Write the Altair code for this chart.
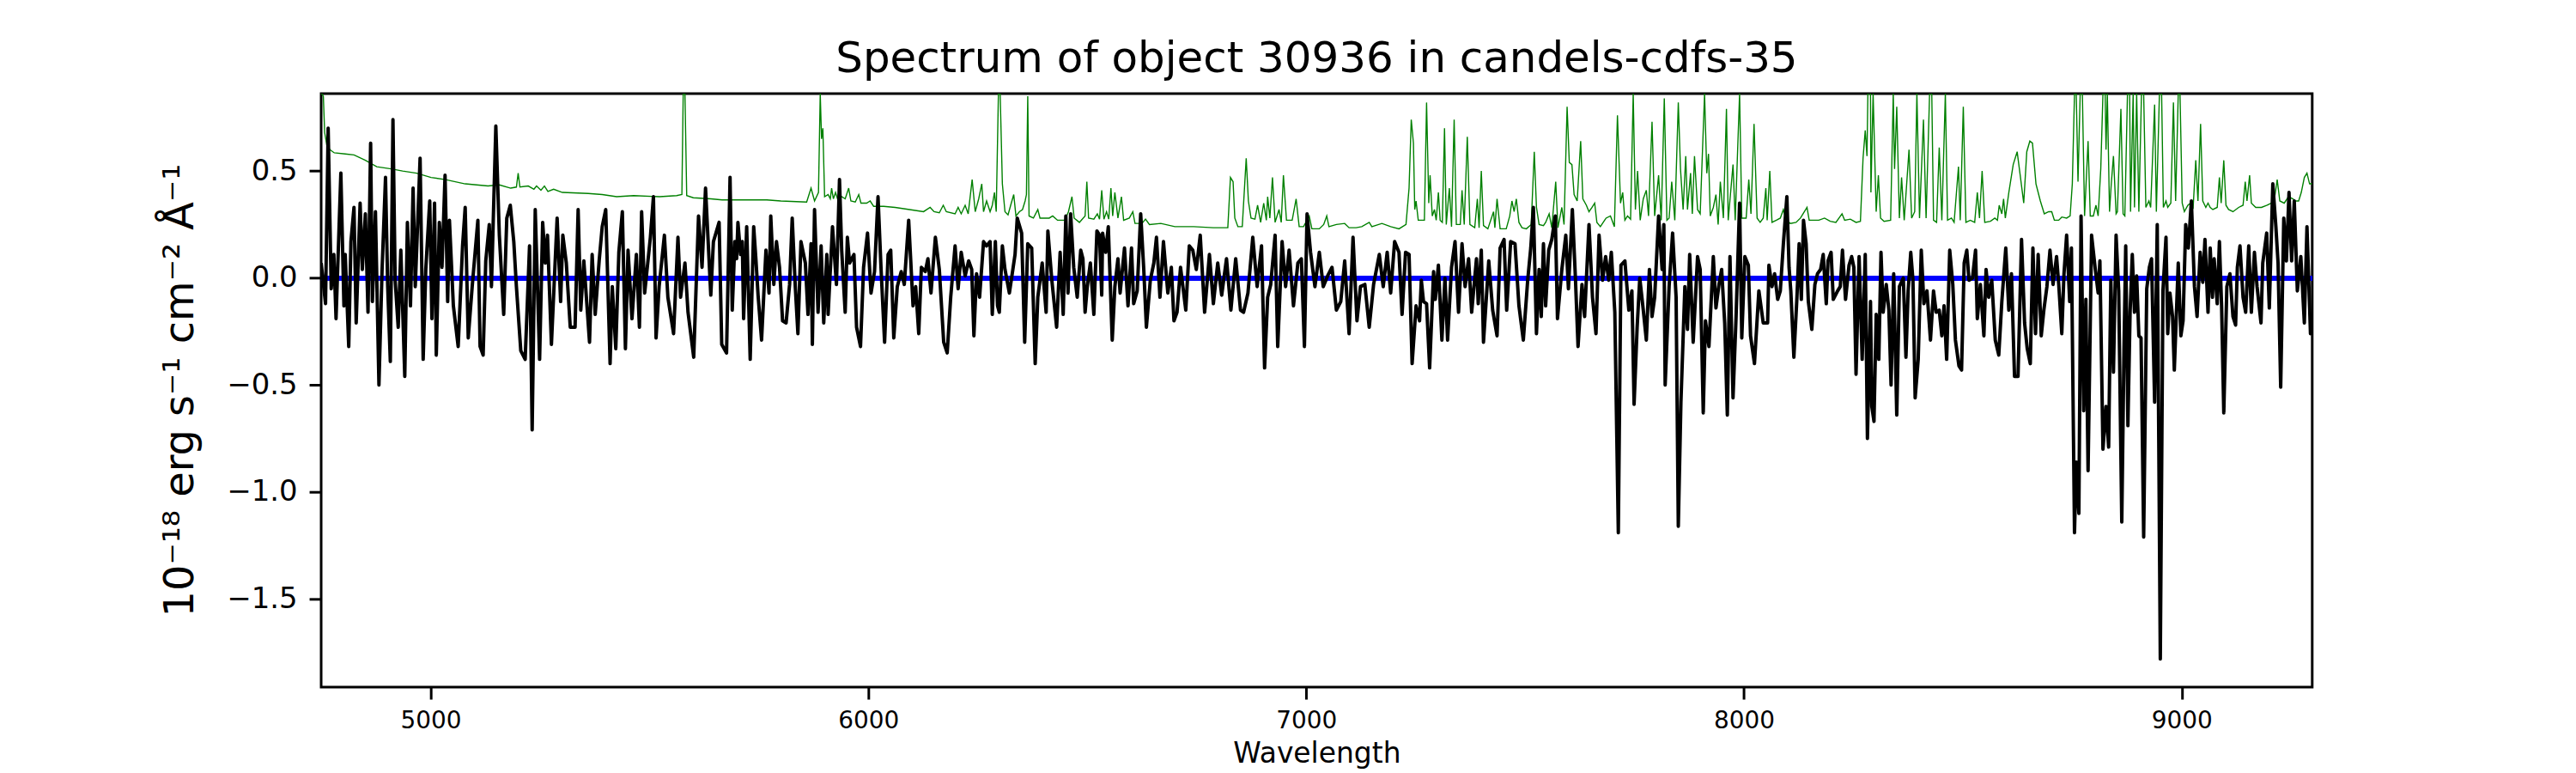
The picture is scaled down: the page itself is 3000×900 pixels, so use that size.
import altair as alt
import pandas as pd

# ---- observed flux (black), wavelength [A], flux [1e-18 erg/s/cm2/A] ----
flux_a = [(4750,0.07),(4760,-0.12),(4766,0.70),(4773,-0.05),(4779,0.11),(4784,-0.19),(4795,0.49),(4802,-0.13),(4805,0.11),(4813,-0.32),(4818,0.17),(4825,0.33),(4830,-0.21),(4839,0.35),(4844,0.04),(4851,0.30),(4857,-0.16),(4863,0.63),(4867,-0.11),(4874,0.31),(4882,-0.50),(4889,0.03),(4897,0.47),(4902,-0.04),(4908,-0.39),(4914,0.74),(4919,-0.01),(4926,-0.23),(4932,0.13),(4941,-0.46),(4947,0.26),(4954,-0.13),(4960,0.42),(4965,-0.04),(4976,0.56),(4983,-0.38),(4989,0.04),(4998,0.36),(5003,-0.19),(5009,0.35),(5013,-0.36),(5020,0.26),(5026,0.05),(5033,0.48),(5039,-0.11),(5043,0.27),(5052,-0.13),(5063,-0.32),(5073,0.15),(5079,0.33),(5086,-0.28),(5095,-0.04),(5108,0.27),(5113,-0.32),(5120,-0.36),(5126,0.08),(5134,0.25),(5139,-0.04),(5149,0.71),(5157,0.20),(5167,-0.17),(5174,0.28),(5182,0.34),(5190,0.17),(5196,-0.04),(5206,-0.34),(5216,-0.38),(5226,0.15),(5232,-0.71),(5239,0.32),(5249,-0.38),(5256,0.26),(5262,0.07),(5267,0.20),(5276,-0.31),(5289,0.28),(5297,-0.11),(5302,0.20),(5310,0.07),(5319,-0.23),(5330,-0.23),(5337,0.32),(5343,-0.15),(5350,0.08),(5363,-0.30),(5369,0.11),(5376,-0.17),(5385,0.08),(5392,0.24),(5400,0.32),(5410,-0.40),(5415,-0.04),(5423,-0.33),(5430,0.12),(5438,0.31),(5445,-0.33),(5451,0.13),(5460,-0.19),(5470,0.11),(5477,-0.23),(5482,0.31),(5489,-0.07),(5502,0.19),(5509,0.38),(5515,-0.28),(5522,-0.04),(5534,0.20),(5542,-0.09),(5555,-0.26),(5565,0.19),(5571,-0.09),(5581,0.07),(5588,-0.16),(5601,-0.37),(5612,0.29),(5620,0.05),(5628,0.42),(5640,-0.08),(5646,0.17),(5659,0.26),(5665,-0.31),(5676,-0.35)]
flux_b = [(5684,0.47),(5689,-0.15),(5695,0.17),(5699,0.09),(5702,0.26),(5708,0.11),(5712,0.17),(5715,-0.19),(5722,0.24),(5730,-0.38),(5738,0.24),(5743,0.09),(5748,-0.08),(5756,-0.29),(5766,0.13),(5773,-0.07),(5777,0.29),(5784,-0.03),(5790,0.17),(5797,0.05),(5804,-0.20),(5812,-0.21),(5820,-0.03),(5826,0.28),(5833,-0.04),(5839,-0.26),(5846,0.17),(5856,0.07),(5862,-0.17),(5869,0.16),(5872,-0.31),(5877,0.32),(5885,-0.16),(5892,0.15),(5898,-0.21),(5905,0.11),(5908,-0.17),(5918,0.24),(5927,-0.03),(5934,0.46),(5939,0.13),(5947,-0.16),(5952,0.19),(5957,0.07),(5967,0.11),(5973,-0.23),(5982,-0.32),(5989,0.05),(5998,0.21),(6006,-0.07),(6014,0.03),(6022,0.38),(6029,0.04),(6037,-0.30),(6045,0.11),(6051,0.13),(6058,-0.28),(6066,-0.04),(6075,0.03),(6082,-0.03),(6092,0.27),(6102,-0.13),(6108,-0.04),(6115,-0.26),(6121,0.05),(6130,0.03),(6136,0.09),(6143,-0.07),(6153,0.19),(6162,0.04),(6172,-0.30),(6180,-0.35),(6188,-0.09),(6198,0.15),(6205,-0.05),(6212,0.12),(6221,0.01),(6229,0.08),(6236,0.04),(6241,-0.27),(6247,0.02),(6254,-0.09),(6263,0.17),(6270,0.15),(6278,0.17),(6283,-0.17),(6290,0.17),(6295,-0.13),(6299,-0.16),(6306,0.15),(6312,0.04),(6322,-0.07),(6330,0.04),(6335,0.11),(6340,0.28),(6350,0.21),(6357,-0.30),(6364,0.16),(6373,0.14),(6381,-0.40),(6387,-0.09),(6397,0.07),(6406,-0.16),(6410,0.22),(6419,-0.01),(6430,-0.23),(6438,0.12),(6445,-0.17),(6451,0.29),(6456,-0.07),(6462,0.30),(6469,0.05)]
flux_c = [(6477,-0.09),(6485,0.13),(6490,0.09),(6495,-0.16),(6500,-0.04),(6507,0.07),(6515,-0.17),(6522,0.22),(6528,0.20),(6533,-0.08),(6535,0.21),(6542,0.12),(6548,0.24),(6557,-0.29),(6563,-0.04),(6570,0.09),(6575,-0.07),(6585,0.14),(6593,-0.13),(6601,0.14),(6606,-0.12),(6614,-0.06),(6622,0.30),(6629,0.04),(6635,-0.23),(6644,-0.01),(6652,0.07),(6658,0.19),(6666,-0.09),(6674,0.17),(6684,-0.07),(6692,0.05),(6698,-0.20),(6705,-0.16),(6713,0.05),(6725,-0.15),(6733,0.15),(6741,0.13),(6749,0.04),(6758,0.20),(6768,-0.16),(6779,0.11),(6788,-0.12),(6798,0.07),(6807,-0.08),(6818,0.09),(6828,-0.15),(6839,0.09),(6850,-0.15),(6857,-0.16),(6867,-0.07),(6878,0.19),(6888,-0.04),(6898,0.15),(6905,-0.42),(6912,-0.09),(6919,-0.03),(6929,0.20),(6935,-0.32),(6945,0.17),(6953,-0.04),(6961,0.13),(6971,-0.13),(6981,0.07),(6989,0.09),(6996,-0.32),(7002,0.30),(7010,0.12),(7020,-0.04),(7030,0.12),(7039,-0.04),(7049,0.01),(7059,0.05),(7069,-0.15),(7079,-0.11),(7088,0.08),(7098,-0.26),(7107,0.19),(7116,-0.20),(7124,-0.04),(7134,-0.03),(7144,-0.23),(7154,-0.03),(7167,0.11),(7176,-0.04),(7185,0.12),(7193,-0.07),(7202,0.17),(7212,0.12),(7219,-0.17),(7227,0.12),(7235,0.11),(7242,-0.40),(7251,-0.13),(7259,-0.20)]
flux_d = [(7263,-0.01),(7268,-0.11),(7275,-0.12),(7282,-0.42),(7291,0.03),(7295,-0.10),(7302,0.06),(7310,-0.29),(7317,0.00),(7323,-0.29),(7332,0.05),(7340,0.17),(7348,-0.16),(7356,0.16),(7363,-0.04),(7371,0.09),(7378,-0.16),(7389,0.09),(7393,-0.12),(7400,0.13),(7405,-0.30),(7417,0.08),(7426,-0.15),(7436,-0.27),(7443,0.14),(7452,0.18),(7458,-0.15),(7467,0.17),(7477,0.16),(7486,-0.13),(7496,-0.29),(7506,-0.01),(7513,0.14),(7519,0.33),(7526,-0.26),(7532,0.04),(7537,-0.18),(7542,0.16),(7547,-0.13),(7554,0.13),(7561,0.18),(7569,0.29),(7574,-0.19),(7584,0.04),(7593,0.20),(7599,-0.05),(7608,0.32),(7615,0.00),(7621,-0.32),(7630,-0.03),(7636,-0.18),(7646,0.25),(7654,-0.09),(7662,-0.26),(7669,0.20),(7677,-0.01),(7684,0.10),(7691,-0.01),(7697,0.12),(7705,-0.16),(7713,-1.19),(7719,0.06),(7728,0.08),(7737,-0.15),(7744,-0.06),(7749,-0.59),(7756,-0.23),(7762,0.00),(7770,-0.15),(7777,-0.29),(7784,0.04),(7790,-0.18),(7796,-0.09),(7805,0.29),(7813,0.04),(7817,0.25),(7820,-0.50),(7829,-0.04),(7837,0.21),(7845,-0.09),(7850,-1.16),(7856,-0.58),(7865,-0.04),(7871,-0.24),(7876,0.11),(7884,-0.30),(7894,0.10),(7900,0.04),(7907,-0.63),(7912,-0.20),(7920,-0.32),(7930,0.10),(7936,-0.14),(7943,-0.03),(7949,0.04),(7956,-0.21),(7962,-0.64),(7968,0.10),(7975,-0.56),(7982,-0.18),(7990,0.35),(7995,-0.28),(8002,0.10),(8010,0.06),(8015,-0.27),(8024,-0.40),(8034,-0.06),(8044,-0.21),(8054,-0.21)]
flux_e = [(8057,0.06),(8064,-0.04),(8070,0.02),(8077,-0.10),(8083,-0.06),(8090,0.16),(8098,0.38),(8103,0.05),(8107,-0.06),(8114,-0.37),(8121,-0.09),(8126,0.16),(8131,-0.10),(8136,0.27),(8142,0.16),(8147,-0.11),(8155,-0.24),(8162,-0.03),(8168,0.02),(8175,0.04),(8181,0.11),(8188,-0.12),(8192,0.08),(8199,0.12),(8204,-0.10),(8214,-0.06),(8220,-0.04),(8225,0.13),(8232,-0.10),(8240,0.06),(8246,0.10),(8251,0.05),(8256,-0.45),(8263,0.10),(8270,-0.38),(8277,0.11),(8282,-0.75),(8289,-0.11),(8292,-0.60),(8297,-0.67),(8302,-0.17),(8308,-0.38),(8313,0.12),(8318,-0.16),(8325,-0.03),(8331,-0.15),(8336,-0.50),(8342,0.02),(8349,-0.64),(8355,-0.04),(8364,0.00),(8370,-0.37),(8375,-0.06),(8381,0.12),(8386,-0.01),(8391,-0.56),(8398,-0.38),(8405,0.13),(8411,-0.12),(8418,-0.06),(8426,-0.29),(8433,-0.06),(8439,-0.16),(8446,-0.15),(8452,-0.27),(8457,-0.13),(8463,-0.38),(8470,0.13),(8477,-0.03),(8483,-0.29),(8491,-0.41),(8497,-0.43),(8503,0.07),(8509,0.13),(8514,-0.01),(8522,0.00),(8529,0.13),(8533,-0.19),(8540,-0.03),(8548,-0.27),(8553,0.04),(8559,-0.09),(8566,-0.01),(8574,-0.29),(8582,-0.36),(8589,-0.11),(8598,0.14),(8605,-0.15),(8611,0.02),(8618,-0.46),(8626,-0.46),(8634,0.18),(8641,-0.21),(8647,-0.33),(8654,-0.40),(8660,0.14),(8666,-0.26),(8672,0.11),(8679,-0.27),(8685,-0.15),(8692,-0.04),(8699,0.13),(8706,-0.03),(8714,0.10),(8719,-0.03),(8726,-0.26),(8731,0.02),(8737,0.20),(8744,-0.11),(8748,0.14),(8755,-1.19),(8759,-0.86),(8765,-1.10),(8770,0.29),(8776,-0.62),(8781,-0.10),(8786,-0.90),(8794,0.20),(8802,0.05),(8809,-0.07),(8813,0.08),(8820,-0.80),(8827,-0.60),(8833,-0.79),(8838,-0.01),(8844,-0.44)]
flux_f = [(8850,0.20),(8856,-0.06),(8863,-1.14),(8868,-0.34),(8872,0.15),(8877,-0.69),(8882,-0.16),(8887,0.11),(8892,-0.16),(8897,0.01),(8902,-0.27),(8907,-0.28),(8913,-1.21),(8920,-0.05),(8926,0.05),(8931,0.09),(8938,-0.58),(8944,0.25),(8951,-1.78),(8957,-0.06),(8964,0.19),(8968,-0.26),(8973,-0.07),(8979,-0.18),(8983,-0.43),(8992,0.07),(8998,-0.27),(9003,-0.20),(9009,0.25),(9015,0.14),(9022,0.36),(9029,-0.04),(9035,-0.18),(9042,0.12),(9048,-0.02),(9053,0.18),(9060,-0.16),(9065,0.14),(9070,-0.09),(9074,0.09),(9081,-0.12),(9086,0.17),(9091,-0.13),(9096,-0.63),(9103,-0.04),(9110,0.02),(9117,-0.18),(9123,-0.22),(9127,0.05),(9133,0.15),(9140,-0.09),(9146,-0.16),(9153,0.15),(9159,-0.16),(9166,0.12),(9172,-0.04),(9181,-0.21),(9185,0.07),(9194,0.21),(9200,-0.14),(9208,0.44),(9215,0.24),(9220,0.07),(9226,-0.51),(9233,0.28),(9239,0.08),(9245,0.40),(9251,0.08),(9257,0.36),(9264,-0.06),(9272,0.10),(9280,-0.21),(9286,0.24),(9294,-0.26),(9298,-0.25)]

# ---- noise / sky spectrum (green) ----
sky_a = [(4751,1.2),(4755,0.85),(4758,0.68),(4763,0.62),(4770,0.60),(4780,0.585),(4805,0.58),(4825,0.575),(4851,0.55),(4877,0.52),(4910,0.51),(4936,0.50),(4968,0.49),(5001,0.47),(5034,0.46),(5079,0.44),(5131,0.43),(5157,0.435),(5183,0.42),(5196,0.425),(5200,0.49),(5204,0.425),(5223,0.43),(5236,0.415),(5242,0.43),(5252,0.41),(5260,0.43),(5268,0.405),(5281,0.415),(5301,0.40),(5360,0.395),(5392,0.39),(5425,0.38),(5464,0.385),(5523,0.38),(5562,0.385),(5574,0.39),(5577,1.6),(5581,1.6),(5585,0.385),(5600,0.375),(5640,0.37),(5666,0.365)]
sky_b = [(5768,0.365),(5800,0.36),(5859,0.355),(5869,0.42),(5877,0.36),(5886,0.40),(5890,1.5),(5893,0.65),(5896,0.70),(5900,0.38),(5908,0.39),(5913,0.37),(5916,0.42),(5920,0.37),(5925,0.40),(5931,0.36),(5939,0.38),(5947,0.37),(5955,0.42),(5960,0.36),(5970,0.355),(5978,0.39),(5983,0.35),(5996,0.35),(6004,0.36),(6012,0.335),(6035,0.335),(6061,0.33),(6094,0.32),(6126,0.31),(6141,0.33),(6150,0.31),(6162,0.305),(6171,0.34),(6178,0.31),(6198,0.30),(6205,0.33),(6212,0.30),(6221,0.34),(6228,0.30),(6237,0.46),(6244,0.31),(6252,0.37),(6259,0.44),(6263,0.31),(6270,0.36),(6278,0.31),(6283,0.34),(6288,0.40),(6292,0.31),(6297,1.5),(6301,1.5),(6306,0.44),(6312,0.31),(6319,0.295),(6325,0.34),(6332,0.39),(6337,0.29),(6345,0.31),(6352,0.32),(6358,0.36),(6361,0.39),(6364,0.85),(6367,0.29),(6377,0.28),(6387,0.32),(6392,0.28),(6413,0.28),(6421,0.29),(6432,0.27),(6449,0.27),(6457,0.31),(6465,0.38),(6470,0.28)]
sky_c = [(6482,0.26),(6495,0.29),(6499,0.45),(6503,0.28),(6515,0.275),(6523,0.30),(6528,0.275),(6533,0.41),(6538,0.275),(6544,0.31),(6549,0.275),(6554,0.42),(6558,0.29),(6563,0.40),(6570,0.28),(6578,0.38),(6583,0.27),(6596,0.28),(6604,0.31),(6609,0.255),(6625,0.255),(6633,0.275),(6642,0.25),(6668,0.255),(6700,0.24),(6743,0.24),(6788,0.235),(6821,0.235),(6827,0.47),(6833,0.45),(6837,0.28),(6844,0.24),(6854,0.24),(6863,0.56),(6868,0.36),(6874,0.28),(6883,0.275),(6889,0.34),(6896,0.26),(6903,0.35),(6909,0.27),(6912,0.38),(6917,0.28),(6923,0.47),(6929,0.26),(6938,0.32),(6943,0.26),(6948,0.48),(6955,0.27),(6968,0.27),(6977,0.37),(6984,0.24),(6994,0.24),(7007,0.29),(7013,0.23),(7030,0.23),(7040,0.25),(7047,0.29),(7052,0.24),(7069,0.25),(7088,0.255),(7098,0.235),(7114,0.235),(7127,0.24),(7144,0.26),(7150,0.24),(7173,0.255),(7193,0.24),(7212,0.23),(7228,0.25),(7235,0.42),(7240,0.74),(7245,0.63),(7248,0.32),(7251,0.36),(7256,0.27)]
sky_d = [(7262,0.27),(7270,0.27),(7275,0.82),(7280,0.35),(7283,0.48),(7288,0.29),(7293,0.32),(7297,0.27),(7302,0.40),(7306,0.27),(7311,0.26),(7316,0.70),(7320,0.25),(7327,0.42),(7332,0.24),(7338,0.74),(7343,0.25),(7352,0.25),(7356,0.41),(7361,0.25),(7368,0.66),(7374,0.25),(7385,0.235),(7391,0.37),(7395,0.235),(7400,0.50),(7405,0.245),(7415,0.23),(7428,0.31),(7431,0.235),(7436,0.37),(7443,0.23),(7457,0.23),(7465,0.29),(7470,0.36),(7475,0.31),(7480,0.37),(7486,0.26),(7493,0.235),(7503,0.23),(7514,0.25),(7521,0.59),(7526,0.33),(7532,0.25),(7542,0.245),(7547,0.26),(7555,0.30),(7561,0.235),(7570,0.45),(7575,0.235),(7584,0.33),(7589,0.25),(7596,0.80),(7601,0.54),(7607,0.53),(7612,0.39),(7619,0.36),(7627,0.64),(7632,0.37),(7640,0.34),(7646,0.31),(7653,0.33),(7659,0.35),(7664,0.26),(7672,0.24),(7685,0.28),(7695,0.29),(7704,0.24),(7711,0.76),(7718,0.35),(7723,0.40),(7728,0.27),(7734,0.29),(7741,0.275),(7747,0.95),(7752,0.32),(7757,0.50),(7763,0.27),(7770,0.37),(7777,0.41),(7782,0.29),(7790,0.73),(7796,0.29),(7805,0.48),(7811,0.27),(7818,0.84),(7824,0.27),(7829,0.28),(7835,0.45),(7842,0.27),(7850,0.82),(7855,0.51),(7861,0.32),(7867,0.57),(7871,0.32),(7878,0.49),(7882,0.30),(7887,0.57),(7894,0.32),(7900,0.30),(7910,0.95),(7915,0.49),(7919,0.58),(7923,0.29),(7930,0.33),(7936,0.39),(7941,0.25),(7946,0.45),(7953,0.28),(7960,0.79),(7964,0.27),(7975,0.53),(7980,0.27),(7990,0.95),(7995,0.28),(8005,0.28),(8011,0.46),(8016,0.30),(8023,0.72),(8030,0.28),(8037,0.26),(8044,0.28)]
sky_e = [(8050,0.42),(8053,0.27),(8059,0.50),(8064,0.26),(8074,0.27),(8083,0.28),(8090,0.32),(8096,0.27),(8106,0.255),(8119,0.26),(8129,0.28),(8135,0.30),(8144,0.33),(8149,0.27),(8158,0.27),(8171,0.27),(8184,0.28),(8197,0.265),(8210,0.26),(8224,0.30),(8230,0.27),(8243,0.275),(8256,0.26),(8266,0.265),(8272,0.56),(8277,0.69),(8281,0.57),(8283,1.2),(8289,1.2),(8290,0.40),(8295,1.2),(8302,0.31),(8307,0.48),(8312,0.28),(8320,0.265),(8335,0.27),(8341,1.2),(8344,0.51),(8349,0.80),(8355,0.28),(8360,0.47),(8366,0.27),(8377,0.60),(8383,0.28),(8390,0.31),(8395,1.2),(8401,0.28),(8410,0.74),(8416,0.28),(8424,1.2),(8429,1.2),(8433,0.27),(8440,0.26),(8446,0.61),(8452,0.27),(8460,1.2),(8465,0.27),(8474,0.28),(8480,0.26),(8490,0.52),(8494,0.27),(8501,0.80),(8507,0.26),(8517,0.27),(8527,0.26),(8533,0.40),(8538,0.28),(8544,0.50),(8550,0.26),(8563,0.265),(8573,0.28),(8579,0.27),(8583,0.34),(8589,0.30),(8593,0.37),(8597,0.28),(8605,0.40),(8615,0.53),(8624,0.59),(8631,0.48),(8639,0.35),(8646,0.59),(8653,0.64),(8659,0.63),(8667,0.44),(8677,0.36),(8686,0.30),(8696,0.31),(8703,0.31),(8709,0.27),(8719,0.27),(8726,0.285),(8737,0.28),(8745,0.29),(8750,0.44),(8755,1.2),(8759,1.2),(8763,0.45),(8768,1.2),(8773,1.2),(8778,0.29),(8786,0.64),(8791,0.29),(8798,0.29),(8804,0.34),(8809,0.29),(8815,0.51),(8820,1.2),(8825,1.2),(8827,0.60),(8830,1.2),(8835,0.31),(8839,0.44),(8844,0.57)]
sky_f = [(8850,0.30),(8853,0.31),(8861,0.79),(8866,0.30),(8870,0.29),(8876,1.2),(8881,1.2),(8883,0.31),(8889,1.2),(8892,0.33),(8897,1.2),(8902,0.31),(8908,1.2),(8913,1.2),(8918,0.33),(8925,0.36),(8929,0.33),(8938,0.81),(8942,0.31),(8949,1.2),(8954,1.2),(8958,0.33),(8964,0.36),(8968,0.33),(8975,0.35),(8981,0.82),(8986,0.36),(8992,1.2),(8996,1.2),(9001,0.35),(9006,0.31),(9014,0.34),(9020,0.35),(9026,0.33),(9032,0.55),(9037,0.36),(9043,0.72),(9048,0.36),(9055,0.33),(9060,0.35),(9065,0.33),(9071,0.32),(9081,0.33),(9086,0.47),(9090,0.35),(9096,0.55),(9101,0.34),(9107,0.32),(9117,0.31),(9130,0.33),(9140,0.34),(9145,0.45),(9149,0.36),(9155,0.48),(9159,0.35),(9169,0.33),(9182,0.33),(9195,0.34),(9205,0.35),(9211,0.36),(9218,0.46),(9224,0.36),(9234,0.35),(9244,0.38),(9254,0.37),(9260,0.36),(9267,0.36),(9273,0.40),(9280,0.47),(9286,0.49),(9292,0.44),(9298,0.44)]

x_ticks = [5000, 6000, 7000, 8000, 9000]
y_ticks = [-1.5, -1.0, -0.5, 0.0, 0.5]
x_domain = [4750, 9298]
y_domain = [-1.912, 0.862]

title_text = "Spectrum of object 30936 in candels-cdfs-35"
x_title = "Wavelength"
y_title = "10⁻¹⁸ erg s⁻¹ cm⁻² Å⁻¹"

flux_pairs = flux_a + flux_b + flux_c + flux_d + flux_e + flux_f
sky_pairs = sky_a + sky_b + sky_c + sky_d + sky_e + sky_f
flux_df = pd.DataFrame(flux_pairs, columns=["wave", "flux"])
sky_df = pd.DataFrame(sky_pairs, columns=["wave", "flux"])

FONT = "DejaVu Sans"

x_scale = alt.Scale(domain=x_domain, nice=False, zero=False, clamp=True)
y_scale = alt.Scale(domain=y_domain, nice=False, zero=False, clamp=True)

x_axis = alt.Axis(
    values=x_ticks, format="d", title=x_title, grid=False, domain=False,
    tickSize=14, tickWidth=3, tickColor="black",
    labelFontSize=28, labelFont=FONT, labelColor="black", labelPadding=12,
    titleFontSize=33, titleFont=FONT, titleFontWeight="normal", titleColor="black",
    titleY=88, titleBaseline="alphabetic",
)
y_axis = alt.Axis(
    values=y_ticks, format=".1f", title=y_title, grid=False, domain=False,
    tickSize=14, tickWidth=3, tickColor="black",
    labelFontSize=34, labelFont=FONT, labelColor="black", labelPadding=14,
    titleFontSize=48, titleFont=FONT, titleFontWeight="normal", titleColor="black",
    titleX=-150, titleY=346, titleAngle=270, titleBaseline="alphabetic", titleAlign="center",
)

zero_rule = alt.Chart(flux_df).mark_rule(color="#0000ff", strokeWidth=5).encode(
    y=alt.datum(0, scale=y_scale)
)

sky_line = alt.Chart(sky_df).mark_line(color="#008000", strokeWidth=1.4, clip=True).encode(
    x=alt.X("wave:Q", scale=x_scale, axis=x_axis),
    y=alt.Y("flux:Q", scale=y_scale, axis=y_axis),
)

flux_line = alt.Chart(flux_df).mark_line(
    color="black", strokeWidth=4, clip=True, strokeJoin="round"
).encode(
    x=alt.X("wave:Q", scale=x_scale, axis=x_axis),
    y=alt.Y("flux:Q", scale=y_scale, axis=y_axis),
)

chart = alt.layer(zero_rule, sky_line, flux_line).properties(
    width=2325,
    height=693,
    title=alt.TitleParams(
        text=title_text, fontSize=50, font=FONT, fontWeight="normal",
        color="black", anchor="middle", baseline="alphabetic", offset=25, dy=50,
    ),
    autosize=alt.AutoSizeParams(type="none"),
    padding={"left": 367, "top": 100, "right": 300, "bottom": 99},
    background="white",
).configure_view(stroke="black", strokeWidth=3)

chart.save("out.html", embed_options={"renderer": "svg", "actions": False})
